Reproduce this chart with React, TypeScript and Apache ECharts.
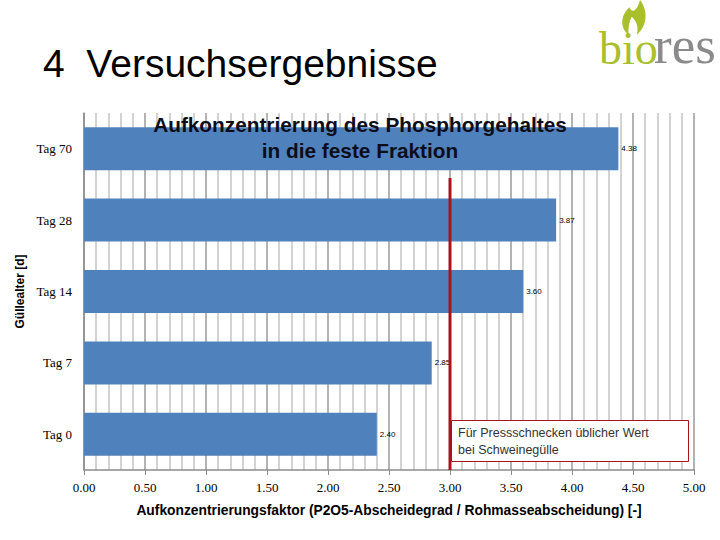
import React, { useEffect, useRef } from "react";
import * as echarts from "echarts";

const categories = ["Tag 0", "Tag 7", "Tag 14", "Tag 28", "Tag 70"];
const values = [2.4, 2.85, 3.6, 3.87, 4.38];
const refLineX = 3.0;
const refLineBottom = 0;
const refLineTop = 4.09;
const xTicks = { min: 0, max: 5, interval: 0.5 };

const titleLines = ["Aufkonzentrierung des Phosphorgehaltes", "in die feste Fraktion"];
const slideTitle = "4  Versuchsergebnisse";
const noteText = "Für Pressschnecken üblicher Wert\nbei Schweinegülle";
const xName = "Aufkonzentrierungsfaktor (P2O5-Abscheidegrad / Rohmasseabscheidung) [-]";
const yName = "Güllealter [d]";

const leafPath =
  "M9 33 C1 27 1 15 10 7 C12 13 17 11 20 0 C28 10 27 25 17 33 C19 25 16 19 12 16 C9 22 9 28 9 33 Z";

export default function App() {
  const ref = useRef<HTMLDivElement>(null);
  useEffect(() => {
    document.body.style.margin = "0";
    try {
      echarts.graphic.registerShape("leaf", echarts.graphic.extendPath(leafPath, {}));
    } catch (e) {}
    const chart = echarts.init(ref.current!, null, { renderer: "svg" });
    chart.setOption({
      animation: false,
      backgroundColor: "#ffffff",
      grid: { left: 84, right: 26, top: 113, bottom: 70, containLabel: false },
      xAxis: [
        {
          type: "value",
          min: xTicks.min,
          max: xTicks.max,
          interval: xTicks.interval,
          name: xName,
          nameLocation: "middle",
          nameGap: 33,
          nameTextStyle: { fontFamily: "Liberation Sans", fontWeight: "bold", fontSize: 13.8, color: "#000" },
          axisLine: { show: true, lineStyle: { color: "#8c8c8c", width: 1.5 } },
          axisTick: { show: true, length: 5, lineStyle: { color: "#8c8c8c" } },
          axisLabel: {
            formatter: (v: number) => v.toFixed(2),
            fontFamily: "Liberation Serif",
            fontSize: 13,
            color: "#000",
            margin: 11,
          },
          splitLine: { show: true, lineStyle: { color: "#9a9a9a", width: 1.5 } },
          minorTick: { show: false, splitNumber: 5 },
          minorSplitLine: { show: true, lineStyle: { color: "#c4c4c4", width: 1.5 } },
        },
      ],
      yAxis: [
        {
          type: "category",
          data: categories,
          name: yName,
          nameLocation: "middle",
          nameGap: 52,
          nameRotate: 90,
          nameTextStyle: { fontFamily: "Liberation Sans", fontWeight: "bold", fontSize: 12, color: "#000" },
          axisLine: { show: true, lineStyle: { color: "#8c8c8c", width: 1.5 } },
          axisTick: { show: false },
          axisLabel: { fontFamily: "Liberation Serif", fontSize: 13, color: "#000", margin: 12 },
          splitLine: { show: false },
        },
        { type: "value", min: 0, max: 5, show: false },
      ],
      series: [
        {
          type: "bar",
          data: values,
          barWidth: 43,
          itemStyle: { color: "#4F81BD" },
          label: {
            show: true,
            position: "right",
            distance: 3,
            formatter: (p: any) => p.value.toFixed(2),
            fontFamily: "Liberation Sans",
            fontSize: 8,
            color: "#000",
          },
        },
        {
          type: "line",
          yAxisIndex: 1,
          data: [
            [refLineX, refLineBottom],
            [refLineX, refLineTop],
          ],
          symbol: "none",
          lineStyle: { color: "#A8141C", width: 3 },
          z: 5,
        },
      ],
      graphic: [
        {
          type: "text",
          left: 43,
          top: 44,
          style: { text: slideTitle, fontFamily: "Liberation Sans", fontSize: 39, fill: "#000" },
        },
        {
          type: "text",
          x: 360,
          y: 111,
          z: 10,
          style: {
            text: titleLines.join("\n"),
            fontFamily: "Liberation Sans",
            fontWeight: "bold",
            fontSize: 20.8,
            lineHeight: 26,
            fill: "#0d0d1a",
            align: "center",
          },
        },
        {
          type: "rect",
          shape: { x: 451.5, y: 420.5, width: 237, height: 41 },
          z: 10,
          style: { fill: "#ffffff", stroke: "#A8141C", lineWidth: 1 },
        },
        {
          type: "text",
          x: 458,
          y: 424,
          z: 11,
          style: {
            text: noteText,
            fontFamily: "Liberation Sans",
            fontSize: 12.5,
            lineHeight: 17,
            fill: "#333",
          },
        },
        {
          type: "leaf",
          x: 619,
          y: 0,
          scaleX: 1.05,
          scaleY: 1.05,
          style: { fill: "#A9BF2C" },
        },
        {
          type: "text",
          x: 599,
          y: 25,
          style: { text: "bio", fontFamily: "Liberation Sans Narrow", fontSize: 46, fill: "#A9BF2C" },
        },
        {
          type: "text",
          x: 654,
          y: 18,
          style: { text: "res", fontFamily: "Liberation Serif", fontSize: 53, fill: "#8a8a8a" },
        },
      ],
    });
    return () => chart.dispose();
  }, []);
  return <div ref={ref} style={{ width: 720, height: 540 }} />;
}
